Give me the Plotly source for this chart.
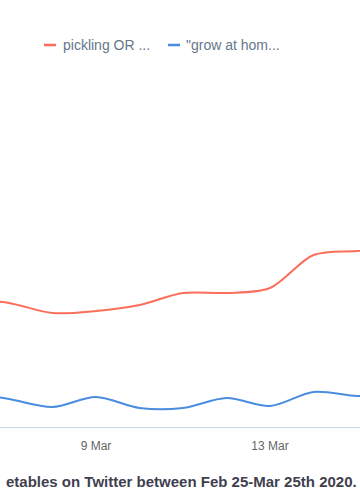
import plotly.graph_objects as go

# Data (only the visible window plus one day either side)
dates = ["2020-03-06", "2020-03-07", "2020-03-08", "2020-03-09", "2020-03-10", "2020-03-11",
         "2020-03-12", "2020-03-13", "2020-03-14", "2020-03-15", "2020-03-16"]
pickling = [256, 248, 228, 232, 244, 268, 268, 278, 344, 352, 358]
grow_at_home = [70, 56, 40, 60, 38, 38, 58, 42, 70, 62, 62]

series_names = ["pickling OR ...", "\"grow at hom..."]
series_colors = ["#fb6e5b", "#4a8de0"]

tick_vals = ["2020-03-09", "2020-03-13"]
tick_text = ["9 Mar", "13 Mar"]

# Visible part of the bottom title (the reference crops its start)
title_text = "etables on Twitter between Feb 25-Mar 25th 2020."

W, H = 360, 500
M_T, M_B = 60, 73
plot_h = H - M_T - M_B

fig = go.Figure()
for name, vals, col in zip(series_names, [pickling, grow_at_home], series_colors):
    fig.add_trace(go.Scatter(
        x=dates, y=vals, name=name, mode="lines",
        line=dict(color=col, width=2, shape="spline", smoothing=0.9),
        showlegend=False, hoverinfo="x+y+name",
    ))

def py_to_paper(py):
    return (H - M_B - py) / plot_h

# Custom legend (short line symbols like the reference)
legend_items = [(44, 56, 61), (168, 180, 184)]
for (x0, x1, tx), name, col in zip(legend_items, series_names, series_colors):
    yl = py_to_paper(45)
    fig.add_shape(type="line", xref="paper", yref="paper",
                  x0=x0 / W, x1=x1 / W, y0=yl, y1=yl,
                  line=dict(color=col, width=2.5))
    fig.add_annotation(x=tx / W, y=yl, xref="paper", yref="paper",
                       text=name, showarrow=False, xanchor="left", yanchor="middle",
                       font=dict(family="Liberation Sans, Arial, sans-serif", size=14,
                                 color="#66778a"))

# Bottom title
fig.add_annotation(x=359 / W, y=py_to_paper(482), xref="paper", yref="paper",
                   text="<b>" + title_text + "</b>", showarrow=False,
                   xanchor="right", yanchor="middle",
                   font=dict(family="Liberation Sans, Arial, sans-serif", size=15,
                             color="#3f3f4f"))

fig.update_layout(
    width=W, height=H,
    margin=dict(l=0, r=0, t=M_T, b=M_B),
    paper_bgcolor="white", plot_bgcolor="white",
    xaxis=dict(
        type="date",
        range=["2020-03-06 19:02", "2020-03-15 01:39"],
        tickvals=tick_vals, ticktext=tick_text,
        showgrid=False, zeroline=False,
        showline=True, linecolor="#ccd6eb", linewidth=1,
        ticks="", ticklabelstandoff=8,
        tickfont=dict(family="Liberation Sans, Arial, sans-serif", size=12, color="#666666"),
    ),
    yaxis=dict(range=[0, plot_h * 2], visible=False, showgrid=False, zeroline=False),
)

fig.write_html("out.html")
